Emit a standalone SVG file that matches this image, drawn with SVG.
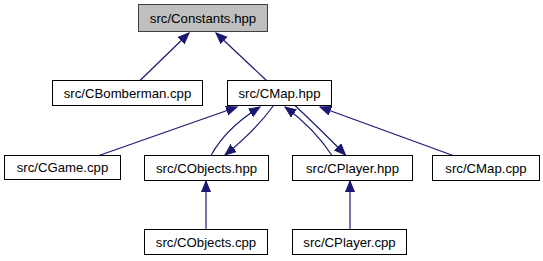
<svg xmlns="http://www.w3.org/2000/svg" width="543" height="261" viewBox="0 0 543 261">
  <style>
    .box { fill: #ffffff; stroke: #000000; stroke-width: 1; }
    .root { fill: #bfbfbf; stroke: #404040; stroke-width: 1; }
    .lbl { font-family: "Liberation Sans", Arial, sans-serif; font-size: 13.2px; fill: #000000; text-anchor: middle; }
    .edge { fill: none; stroke: #191970; stroke-width: 1.2; marker-end: url(#arr); }
  </style>
  <defs>
    <marker id="arr" markerUnits="userSpaceOnUse" markerWidth="13" markerHeight="11" refX="11" refY="5" orient="auto">
      <path d="M0,0.5 L11,5 L0,9.5 z" fill="#191970" stroke="#191970" stroke-width="1"/>
    </marker>
  </defs>
  <rect width="543" height="261" fill="#ffffff"/>

  <g id="connectors">
    <path class="edge" d="M140,80.5 L189,33"/>
    <path class="edge" d="M266.5,80.5 L216,33"/>
    <path class="edge" d="M99,155.5 L237,107"/>
    <path class="edge" d="M211,155.5 Q226,128 260,107"/>
    <path class="edge" d="M273.5,105.5 Q256,130 225,155"/>
    <path class="edge" d="M332,155.5 Q314,128 285,107"/>
    <path class="edge" d="M295,105.5 Q319,128 345.5,155"/>
    <path class="edge" d="M453,155.5 L320,107"/>
    <path class="edge" d="M206,229.5 L206,181"/>
    <path class="edge" d="M350,229.5 L350,181"/>
  </g>

  <g id="node-constants">
    <rect class="root" x="138.5" y="4.5" width="129" height="27"/>
    <text class="lbl" x="203" y="23">src/Constants.hpp</text>
  </g>
  <g id="node-cbomberman-cpp">
    <rect class="box" x="52.5" y="80.5" width="150" height="25"/>
    <text class="lbl" x="127.5" y="97.5">src/CBomberman.cpp</text>
  </g>
  <g id="node-cmap-hpp">
    <rect class="box" x="227.5" y="80.5" width="104" height="25"/>
    <text class="lbl" x="279.5" y="97.5">src/CMap.hpp</text>
  </g>
  <g id="node-cgame-cpp">
    <rect class="box" x="4.5" y="155.5" width="116" height="24"/>
    <text class="lbl" x="62.5" y="172">src/CGame.cpp</text>
  </g>
  <g id="node-cobjects-hpp">
    <rect class="box" x="144.5" y="155.5" width="124" height="25"/>
    <text class="lbl" x="206.5" y="172.5">src/CObjects.hpp</text>
  </g>
  <g id="node-cplayer-hpp">
    <rect class="box" x="292.5" y="155.5" width="120" height="25"/>
    <text class="lbl" x="352.5" y="172.5">src/CPlayer.hpp</text>
  </g>
  <g id="node-cmap-cpp">
    <rect class="box" x="432.5" y="155.5" width="107" height="25"/>
    <text class="lbl" x="486" y="172.5">src/CMap.cpp</text>
  </g>
  <g id="node-cobjects-cpp">
    <rect class="box" x="144.5" y="229.5" width="123" height="25"/>
    <text class="lbl" x="206" y="246.5">src/CObjects.cpp</text>
  </g>
  <g id="node-cplayer-cpp">
    <rect class="box" x="292.5" y="229.5" width="114" height="25"/>
    <text class="lbl" x="349.5" y="246.5">src/CPlayer.cpp</text>
  </g>
</svg>
